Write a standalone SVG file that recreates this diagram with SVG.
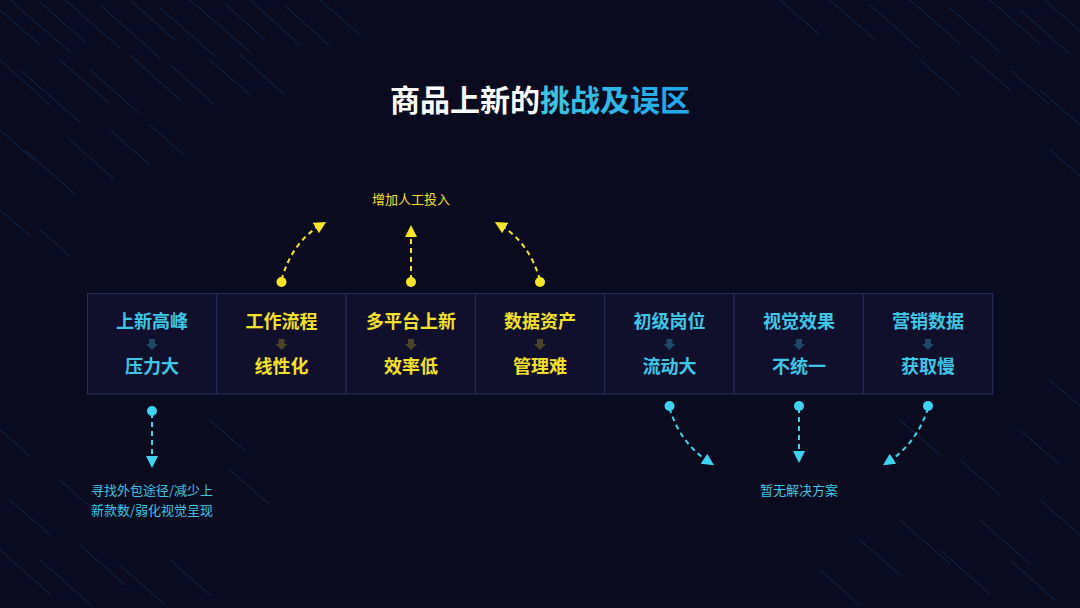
<svg xmlns="http://www.w3.org/2000/svg" width="1080" height="608" viewBox="0 0 1080 608">
<defs>
<linearGradient id="tg" x1="0" y1="0" x2="1" y2="0"><stop offset="0" stop-color="#5ee6c8"/><stop offset="1" stop-color="#1fa6f2"/></linearGradient>
<marker id="ay" viewBox="0 0 10 10" refX="5" refY="5" markerWidth="12" markerHeight="12" markerUnits="userSpaceOnUse" orient="auto"><path d="M0,0 L10,5 L0,10 z" fill="#f7e52a"/></marker>
<marker id="ac" viewBox="0 0 10 10" refX="5" refY="5" markerWidth="12" markerHeight="12" markerUnits="userSpaceOnUse" orient="auto"><path d="M0,0 L10,5 L0,10 z" fill="#3fd2f0"/></marker>
</defs>
<style>
.bg line{stroke:#1b3a66;stroke-width:1}
.cell{fill:#10102c;stroke:#2c2c5c;stroke-width:1}
.t{font-family:"Noto Sans CJK SC",sans-serif;font-weight:bold;font-size:18px;text-anchor:middle}
.c{fill:#3fc6e6}
.y{fill:#f4e02c}
.small{font-family:"Noto Sans CJK SC",sans-serif;font-size:13px;text-anchor:middle}
.ya{fill:none;stroke:#f7e52a;stroke-width:2;stroke-dasharray:5 4}
.ca{fill:none;stroke:#3fd2f0;stroke-width:2;stroke-dasharray:5 4}
</style>
<rect width="1080" height="608" fill="#0a0b1e"/>
<g class="bg" opacity="0.65">
<line x1="0" y1="10" x2="40" y2="45"/><line x1="10" y1="0" x2="70" y2="52"/><line x1="40" y1="2" x2="85" y2="42"/><line x1="65" y1="0" x2="120" y2="48"/><line x1="100" y1="5" x2="160" y2="58"/><line x1="130" y1="0" x2="175" y2="40"/><line x1="160" y1="8" x2="215" y2="56"/><line x1="190" y1="0" x2="250" y2="52"/><line x1="225" y1="4" x2="265" y2="40"/><line x1="250" y1="0" x2="300" y2="45"/><line x1="285" y1="6" x2="330" y2="46"/><line x1="320" y1="0" x2="360" y2="35"/>
<line x1="0" y1="60" x2="50" y2="105"/><line x1="20" y1="70" x2="80" y2="122"/><line x1="60" y1="60" x2="110" y2="104"/><line x1="90" y1="70" x2="140" y2="114"/><line x1="130" y1="55" x2="180" y2="100"/><line x1="170" y1="65" x2="215" y2="105"/><line x1="210" y1="60" x2="250" y2="95"/><line x1="240" y1="55" x2="285" y2="95"/>
<line x1="0" y1="130" x2="35" y2="161"/><line x1="25" y1="150" x2="75" y2="194"/><line x1="70" y1="140" x2="115" y2="180"/><line x1="110" y1="130" x2="150" y2="165"/><line x1="150" y1="125" x2="185" y2="156"/>
<line x1="0" y1="210" x2="30" y2="236"/><line x1="40" y1="230" x2="70" y2="256"/>
<line x1="780" y1="0" x2="820" y2="35"/><line x1="830" y1="0" x2="875" y2="40"/><line x1="870" y1="5" x2="920" y2="49"/><line x1="910" y1="0" x2="960" y2="44"/><line x1="950" y1="8" x2="1000" y2="52"/><line x1="990" y1="0" x2="1040" y2="44"/><line x1="1020" y1="10" x2="1070" y2="54"/><line x1="1045" y1="0" x2="1080" y2="31"/>
<line x1="920" y1="60" x2="960" y2="95"/><line x1="970" y1="55" x2="1010" y2="90"/><line x1="1010" y1="70" x2="1050" y2="105"/><line x1="1040" y1="90" x2="1080" y2="125"/><line x1="1050" y1="150" x2="1080" y2="176"/>
<line x1="0" y1="430" x2="30" y2="456"/><line x1="10" y1="500" x2="50" y2="535"/><line x1="0" y1="550" x2="50" y2="594"/><line x1="40" y1="560" x2="90" y2="604"/><line x1="80" y1="545" x2="125" y2="585"/><line x1="120" y1="565" x2="165" y2="605"/><line x1="60" y1="480" x2="95" y2="511"/><line x1="170" y1="560" x2="210" y2="595"/><line x1="230" y1="470" x2="270" y2="505"/><line x1="210" y1="420" x2="245" y2="451"/>
<line x1="860" y1="540" x2="900" y2="575"/><line x1="900" y1="520" x2="950" y2="564"/><line x1="940" y1="550" x2="990" y2="594"/><line x1="980" y1="520" x2="1030" y2="564"/><line x1="1010" y1="560" x2="1055" y2="600"/><line x1="1040" y1="500" x2="1080" y2="535"/><line x1="960" y1="460" x2="1000" y2="495"/><line x1="1020" y1="430" x2="1060" y2="465"/><line x1="820" y1="570" x2="860" y2="605"/><line x1="900" y1="420" x2="940" y2="455"/><line x1="1050" y1="380" x2="1080" y2="406"/>
</g>
<text x="540" y="111" font-family="Noto Sans CJK SC, sans-serif" font-weight="bold" font-size="30" text-anchor="middle"><tspan fill="#ffffff">商品上新的</tspan><tspan fill="url(#tg)">挑战及误区</tspan></text>
<g id="n1"><rect class="cell" x="87.5" y="293.5" width="129.3" height="100.5"/><text class="t c" x="152" y="328">上新高峰</text><text class="t c" x="152" y="373">压力大</text><path d="M149,339 h6 v5 h3 l-6,6 l-6,-6 h3 z" fill="#1f4766"/></g>
<g id="n2"><rect class="cell" x="216.8" y="293.5" width="129.3" height="100.5"/><text class="t y" x="281.5" y="328">工作流程</text><text class="t y" x="281.5" y="373">线性化</text><path d="M278.5,339 h6 v5 h3 l-6,6 l-6,-6 h3 z" fill="#4a4326"/></g>
<g id="n3"><rect class="cell" x="346.1" y="293.5" width="129.3" height="100.5"/><text class="t y" x="411" y="328">多平台上新</text><text class="t y" x="411" y="373">效率低</text><path d="M408,339 h6 v5 h3 l-6,6 l-6,-6 h3 z" fill="#4a4326"/></g>
<g id="n4"><rect class="cell" x="475.4" y="293.5" width="129.3" height="100.5"/><text class="t y" x="540" y="328">数据资产</text><text class="t y" x="540" y="373">管理难</text><path d="M537,339 h6 v5 h3 l-6,6 l-6,-6 h3 z" fill="#4a4326"/></g>
<g id="n5"><rect class="cell" x="604.7" y="293.5" width="129.3" height="100.5"/><text class="t c" x="669.5" y="328">初级岗位</text><text class="t c" x="669.5" y="373">流动大</text><path d="M666.5,339 h6 v5 h3 l-6,6 l-6,-6 h3 z" fill="#1f4766"/></g>
<g id="n6"><rect class="cell" x="734" y="293.5" width="129.3" height="100.5"/><text class="t c" x="799" y="328">视觉效果</text><text class="t c" x="799" y="373">不统一</text><path d="M796,339 h6 v5 h3 l-6,6 l-6,-6 h3 z" fill="#1f4766"/></g>
<g id="n7"><rect class="cell" x="863.3" y="293.5" width="129.3" height="100.5"/><text class="t c" x="928" y="328">营销数据</text><text class="t c" x="928" y="373">获取慢</text><path d="M925,339 h6 v5 h3 l-6,6 l-6,-6 h3 z" fill="#1f4766"/></g>
<g id="connectors">
<circle cx="281.5" cy="282" r="5" fill="#f7e52a"/><circle cx="411" cy="282" r="5" fill="#f7e52a"/><circle cx="540" cy="282" r="5" fill="#f7e52a"/>
<path class="ya" d="M281.5,280 Q292,242 321,225" marker-end="url(#ay)"/>
<path class="ya" d="M411,280 L411,231" marker-end="url(#ay)"/>
<path class="ya" d="M540,280 Q529,242 500,225" marker-end="url(#ay)"/>
<circle cx="152" cy="411" r="5" fill="#3fd2f0"/><circle cx="669.5" cy="406" r="5" fill="#3fd2f0"/><circle cx="799" cy="406" r="5" fill="#3fd2f0"/><circle cx="928" cy="406" r="5" fill="#3fd2f0"/>
<path class="ca" d="M152,413 L152,462" marker-end="url(#ac)"/>
<path class="ca" d="M669.5,408 Q680,443 709,462" marker-end="url(#ac)"/>
<path class="ca" d="M799,408 L799,457" marker-end="url(#ac)"/>
<path class="ca" d="M928,408 Q917,443 888,462" marker-end="url(#ac)"/>
</g>
<text class="small y" x="411" y="204">增加人工投入</text>
<text class="small c" x="152" y="495">寻找外包途径/减少上</text>
<text class="small c" x="152" y="515">新款数/弱化视觉呈现</text>
<text class="small c" x="799" y="495">暂无解决方案</text>
</svg>
